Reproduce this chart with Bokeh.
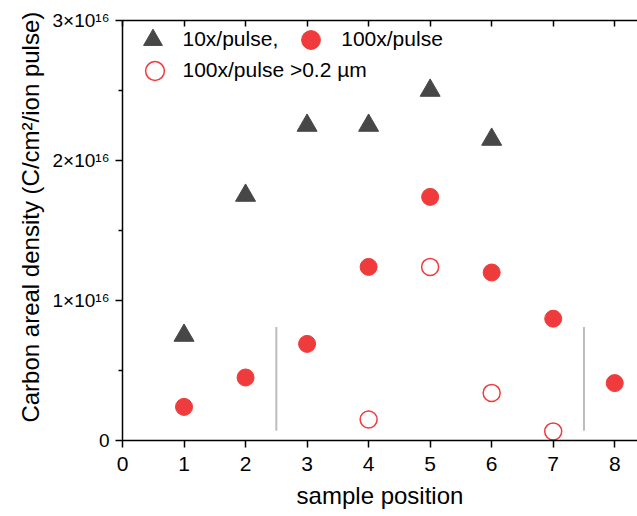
from bokeh.plotting import figure
from bokeh.models import (FixedTicker, LinearAxis, Legend, LegendItem,
                          Range1d, CustomJSTickFormatter)
from bokeh.embed import file_html
from bokeh.resources import INLINE

# ---- data ----
pos_10x = [1, 2, 3, 4, 5, 6]
dens_10x = [0.75e16, 1.75e16, 2.25e16, 2.25e16, 2.5e16, 2.15e16]

pos_100x = [1, 2, 3, 4, 5, 6, 7, 8]
dens_100x = [0.24e16, 0.45e16, 0.69e16, 1.24e16, 1.74e16, 1.2e16, 0.87e16, 0.41e16]

pos_100x_big = [4, 5, 6, 7]
dens_100x_big = [0.15e16, 1.24e16, 0.34e16, 0.065e16]

sep_x = [2.5, 7.5]
sep_y0 = [0.07e16, 0.07e16]
sep_y1 = [0.81e16, 0.81e16]

x_ticks = [0, 1, 2, 3, 4, 5, 6, 7, 8]
y_ticks = [0, 1e16, 2e16, 3e16]
y_minor = [0.5e16, 1.5e16, 2.5e16]
y_tick_labels = ["0", "1\u00d710\u00b9\u2076", "2\u00d710\u00b9\u2076", "3\u00d710\u00b9\u2076"]

FONT = "Liberation Sans"
RED = "#ef3b3b"
GRAY = "#474747"

p = figure(width=637, height=512, output_backend="svg", toolbar_location=None,
           x_range=Range1d(0, 8.37), y_range=Range1d(0, 3e16),
           min_border_left=122, min_border_right=0, min_border_top=20,
           min_border_bottom=72)
p.xgrid.visible = False
p.ygrid.visible = False
p.outline_line_color = None
p.background_fill_color = "white"

# separators
p.segment(x0=sep_x, y0=sep_y0, x1=sep_x, y1=sep_y1, line_color="#bdbdbd", line_width=2)

r_tri = p.scatter(pos_10x, dens_10x, marker="triangle", size=20,
                  fill_color=GRAY, line_color=GRAY)
r_fill = p.scatter(pos_100x, dens_100x, marker="circle", size=17,
                   fill_color=RED, line_color=RED)
r_open = p.scatter(pos_100x_big, dens_100x_big, marker="circle", size=17,
                   fill_color="white", fill_alpha=0, line_color=RED, line_width=1.5)

# x axis
xa = p.xaxis[0]
xa.ticker = FixedTicker(ticks=x_ticks)
xa.axis_label = "sample position"
xa.axis_label_text_font = FONT
xa.axis_label_text_font_style = "normal"
xa.axis_label_text_font_size = "24px"
xa.axis_label_text_color = "black"
xa.axis_label_standoff = 8
xa.major_label_text_font = FONT
xa.major_label_text_font_size = "21px"
xa.major_label_text_color = "black"
xa.major_label_standoff = 9
xa.major_tick_out = 7
xa.major_tick_in = 0
xa.minor_tick_out = 0
xa.minor_tick_in = 0
xa.axis_line_width = 1.5
xa.major_tick_line_width = 1.5
xa.axis_line_color = "black"
xa.major_tick_line_color = "black"

# y axis
ya = p.yaxis[0]
ya.ticker = FixedTicker(ticks=y_ticks, minor_ticks=y_minor)
ya.major_label_overrides = {t: l for t, l in zip(y_ticks, y_tick_labels)}
ya.major_label_text_font = FONT
ya.major_label_text_font_size = "19px"
ya.major_label_text_color = "black"
ya.major_label_standoff = 6
ya.major_tick_out = 7
ya.major_tick_in = 0
ya.minor_tick_out = 4
ya.minor_tick_in = 0
ya.axis_line_width = 1.5
ya.major_tick_line_width = 1.5
ya.minor_tick_line_width = 1.5
ya.axis_line_color = "black"
ya.major_tick_line_color = "black"
ya.minor_tick_line_color = "black"
ya.axis_label = "\u00a0\u00a0\u00a0\u00a0Carbon areal density (C/cm\u00b2/ion pulse)"
ya.axis_label_text_font = FONT
ya.axis_label_text_font_style = "normal"
ya.axis_label_text_font_size = "24px"
ya.axis_label_text_color = "black"
ya.axis_label_standoff = 6

# top axis (ticks inward, no labels)
top = LinearAxis(ticker=FixedTicker(ticks=x_ticks),
                 formatter=CustomJSTickFormatter(code="return ''"),
                 major_label_standoff=0, major_tick_in=6, major_tick_out=0,
                 minor_tick_in=0, minor_tick_out=0, axis_line_width=1.5,
                 major_tick_line_width=1.5, axis_line_color="black",
                 major_tick_line_color="black")
p.add_layout(top, "above")

# legends
common = dict(orientation="horizontal", glyph_width=47, glyph_height=47,
              padding=0, margin=0, background_fill_alpha=0, border_line_alpha=0,
              label_text_font=FONT, label_text_font_size="21px",
              label_text_color="black")
leg1 = Legend(items=[LegendItem(label="10x/pulse,", renderers=[r_tri]),
                     LegendItem(label="100x/pulse", renderers=[r_fill])],
              location=(6.5, 377.5), label_standoff=7, spacing=9, **common)
leg2 = Legend(items=[LegendItem(label="100x/pulse >0.2 \u00b5m", renderers=[r_open])],
              location=(8.5, 346.5), label_standoff=5, spacing=0, **common)
p.add_layout(leg1)
p.add_layout(leg2)

open("out.html", "w").write(file_html(p, INLINE))
